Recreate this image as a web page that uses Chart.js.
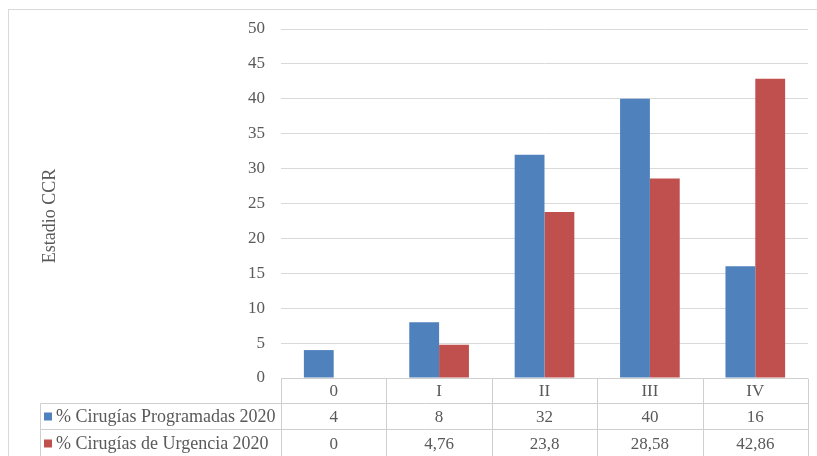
<!DOCTYPE html>
<html>
<head>
<meta charset="utf-8">
<script src="https://cdn.jsdelivr.net/npm/chart.js@4/dist/chart.umd.min.js"></script>
<style>
    html, body { margin: 0; padding: 0; background: #fff; }
    #wrap { width: 817px; height: 456px; }
</style>
</head>
<body>
<div id="wrap"><canvas id="chart" width="817" height="456"></canvas></div>
<script>
const categories = ['0', 'I', 'II', 'III', 'IV'];
const seriesNames = ['% Cirugías Programadas 2020', '% Cirugías de Urgencia 2020'];
const programadas = [4, 8, 32, 40, 16];
const urgencia = [0, 4.76, 23.8, 28.58, 42.86];
const programadasText = ['4', '8', '32', '40', '16'];
const urgenciaText = ['0', '4,76', '23,8', '28,58', '42,86'];
const yMin = 0, yMax = 50, yStep = 5;
const yTitle = 'Estadio CCR';

const blue = '#4F81BD';
const red = '#C0504D';
const fontFamily = '"Liberation Serif", "DejaVu Serif", serif';
const textColor = '#595959';

// draws the outer frame, axis title and the data table under the bars
const tablePlugin = {
    id: 'dataTable',
    afterDraw(chart) {
        const ctx = chart.ctx;
        const area = chart.chartArea;
        const xScale = chart.scales.x;
        const colW = (area.right - area.left) / categories.length;
        const tableLeft = 40.5;
        const rowTop = Math.round(area.bottom) + 0.5;
        const row1 = rowTop + 25;
        const row2 = row1 + 26;
        const row3 = row2 + 28;

        ctx.save();
        // outer frame
        ctx.strokeStyle = '#d9d9d9';
        ctx.lineWidth = 1;
        ctx.strokeRect(8.5, 9.5, 820, 460);

        // table lines
        ctx.strokeStyle = '#cfcfcf';
        ctx.beginPath();
        ctx.moveTo(area.left, rowTop); ctx.lineTo(area.right, rowTop);
        ctx.moveTo(tableLeft, row1); ctx.lineTo(area.right, row1);
        ctx.moveTo(tableLeft, row2); ctx.lineTo(area.right, row2);
        ctx.moveTo(tableLeft, row1); ctx.lineTo(tableLeft, row3);
        for (let i = 0; i <= categories.length; i++) {
            const x = Math.round(area.left + i * colW) + 0.5;
            ctx.moveTo(x, rowTop); ctx.lineTo(x, row3);
        }
        ctx.stroke();

        // table texts
        ctx.fillStyle = textColor;
        ctx.font = '17px ' + fontFamily;
        ctx.textAlign = 'center';
        ctx.textBaseline = 'middle';
        categories.forEach((c, i) => {
            const x = xScale.getPixelForValue(i);
            ctx.fillText(c, x, (rowTop + row1) / 2 + 1);
            ctx.fillText(programadasText[i], x, (row1 + row2) / 2 + 1);
            ctx.fillText(urgenciaText[i], x, (row2 + row3) / 2 + 1);
        });

        // legend keys + series names
        ctx.textAlign = 'left';
        ctx.font = '18px ' + fontFamily;
        [[blue, seriesNames[0], (row1 + row2) / 2], [red, seriesNames[1], (row2 + row3) / 2]].forEach(([col, name, y]) => {
            ctx.fillStyle = col;
            ctx.fillRect(44, y - 4, 8, 8);
            ctx.fillStyle = textColor;
            ctx.fillText(name, 56, y + 1);
        });

        // axis title
        ctx.translate(50, 216);
        ctx.rotate(-Math.PI / 2);
        ctx.textAlign = 'center';
        ctx.fillText(yTitle, 0, 0);
        ctx.restore();
    }
};

const ctx = document.getElementById('chart').getContext('2d');
const chart = new Chart(ctx, {
    type: 'bar',
    data: {
        labels: categories,
        datasets: [
            { label: seriesNames[0], data: programadas, backgroundColor: blue, borderWidth: 0 },
            { label: seriesNames[1], data: urgencia, backgroundColor: red, borderWidth: 0 }
        ]
    },
    options: {
        responsive: false,
        animation: false,
        devicePixelRatio: 1,
        layout: { padding: { left: 0, right: 9, top: 29, bottom: 78 } },
        datasets: { bar: { categoryPercentage: 0.566, barPercentage: 1.0 } },
        scales: {
            x: {
                ticks: { display: false },
                grid: { display: false, drawTicks: false },
                border: { display: false },
                afterFit: s => { s.height = 0; }
            },
            y: {
                min: yMin,
                max: yMax,
                ticks: {
                    stepSize: yStep,
                    color: textColor,
                    padding: 16,
                    font: { family: fontFamily, size: 17 }
                },
                grid: { color: '#d9d9d9', lineWidth: 1, drawTicks: false },
                border: { display: false },
                afterFit: s => { s.width = 281; }
            }
        },
        plugins: {
            legend: { display: false },
            tooltip: { enabled: false }
        }
    },
    plugins: [tablePlugin]
});
</script>
</body>
</html>
